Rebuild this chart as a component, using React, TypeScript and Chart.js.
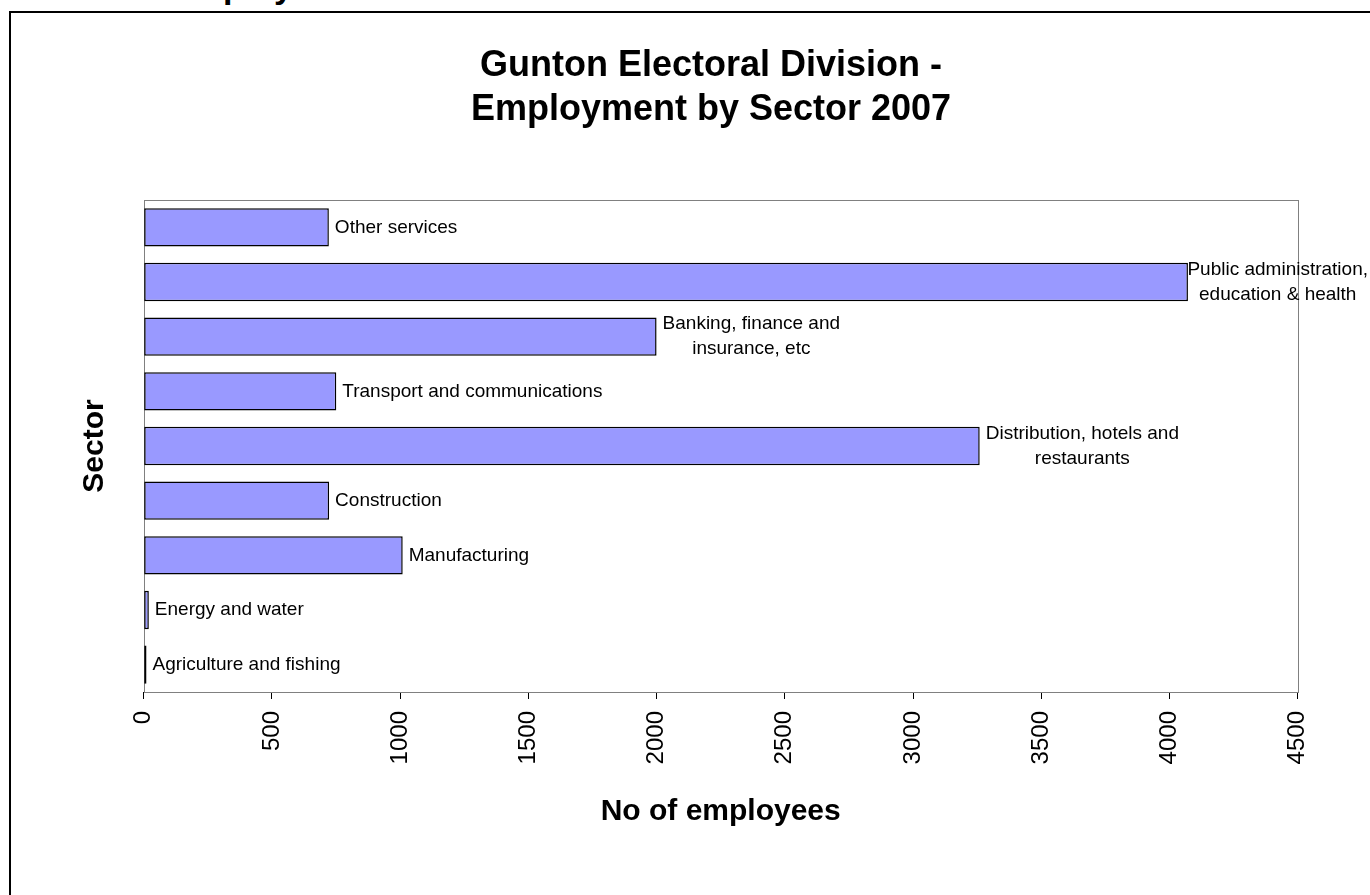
import React, { useEffect, useRef } from "react";
import { Chart, registerables } from "chart.js";

Chart.register(...registerables);

// ---- data ----
const sectorLabels: string[][] = [
  ["Other services"],
  ["Public administration,", "education & health"],
  ["Banking, finance and", "insurance, etc"],
  ["Transport and communications"],
  ["Distribution, hotels and", "restaurants"],
  ["Construction"],
  ["Manufacturing"],
  ["Energy and water"],
  ["Agriculture and fishing"],
];
const employees: number[] = [722, 4072, 2000, 751, 3260, 723, 1010, 20, 11];
const xTickValues: number[] = [0, 500, 1000, 1500, 2000, 2500, 3000, 3500, 4000, 4500];
const titleLines: string[] = ["Gunton Electoral Division -", "Employment by Sector 2007"];
const xAxisTitle = "No of employees";
const yAxisTitle = "Sector";
const pageHeading = "Employment";

// ---- layout / style constants ----
const FONT = '"Liberation Sans", Arial, Helvetica, sans-serif';
const CANVAS_W = 1400;
const CANVAS_H = 882;
const PLOT_LEFT = 132.7;
const PLOT_RIGHT = 1286.7;
const LABEL_GAP = 6;
const LABEL_LINE_H = 25;
const LABEL_RIGHT_LIMIT = 1357;
const BAR_FILL = "#9999FF";

const barLabelPlugin = {
  id: "barLabels",
  afterDatasetsDraw(chart: any) {
    const ctx = chart.ctx as CanvasRenderingContext2D;
    const meta = chart.getDatasetMeta(0);
    ctx.save();
    ctx.font = `19px ${FONT}`;
    ctx.fillStyle = "#000";
    ctx.textBaseline = "middle";
    ctx.textAlign = "center";
    meta.data.forEach((el: any, i: number) => {
      const lines = sectorLabels[i];
      const w = Math.max(...lines.map((l) => ctx.measureText(l).width));
      let left = el.x + LABEL_GAP;
      if (left + w > LABEL_RIGHT_LIMIT) left = LABEL_RIGHT_LIMIT - w;
      const cx = left + w / 2;
      const y0 = el.y - ((lines.length - 1) * LABEL_LINE_H) / 2;
      lines.forEach((l, j) => ctx.fillText(l, cx, y0 + j * LABEL_LINE_H));
    });
    ctx.restore();
  },
};

const plotBorderPlugin = {
  id: "plotBorder",
  beforeDatasetsDraw(chart: any) {
    const { ctx, chartArea } = chart;
    ctx.save();
    ctx.strokeStyle = "#808080";
    ctx.lineWidth = 1;
    ctx.strokeRect(
      Math.round(chartArea.left) + 0.5,
      Math.round(chartArea.top) + 0.5,
      Math.round(chartArea.right - chartArea.left),
      Math.round(chartArea.bottom - chartArea.top)
    );
    ctx.restore();
  },
};

function EmploymentChart() {
  const ref = useRef<HTMLCanvasElement | null>(null);
  useEffect(() => {
    if (!ref.current) return;
    Chart.defaults.font.family = FONT;
    Chart.defaults.color = "#000";
    const chart = new Chart(ref.current, {
      type: "bar",
      data: {
        labels: sectorLabels,
        datasets: [
          {
            data: employees,
            backgroundColor: BAR_FILL,
            borderColor: "#000",
            borderWidth: 1.5,
            borderSkipped: false,
            categoryPercentage: 1,
            barPercentage: 0.7,
          },
        ],
      },
      options: {
        indexAxis: "y",
        animation: false,
        responsive: false,
        devicePixelRatio: 1,
        layout: { padding: { top: 0, left: 0, right: 0, bottom: 53 } },
        plugins: {
          legend: { display: false },
          tooltip: { enabled: false },
          title: {
            display: true,
            text: titleLines,
            color: "#000",
            font: { size: 36, weight: "bold", family: FONT, lineHeight: 44 / 36 },
            padding: { top: 31, bottom: 68 },
          },
        },
        scales: {
          x: {
            type: "linear",
            position: "bottom",
            min: 0,
            max: 4500,
            afterBuildTicks: (scale: any) => {
              scale.ticks = xTickValues.map((v) => ({ value: v }));
            },
            afterFit: (scale: any) => {
              scale.height = 150;
            },
            ticks: {
              autoSkip: false,
              minRotation: 90,
              maxRotation: 90,
              padding: 12,
              color: "#000",
              font: { size: 24, family: FONT },
              callback: (v: any) => String(v),
            },
            grid: {
              display: true,
              drawOnChartArea: false,
              drawTicks: true,
              tickLength: 7,
              color: "#000",
              lineWidth: 1,
            },
            border: { display: true, color: "#000", width: 1 },
            title: {
              display: true,
              text: xAxisTitle,
              color: "#000",
              font: { size: 30, weight: "bold", family: FONT, lineHeight: 1.2 },
              padding: { top: 0, bottom: 12 },
            },
          },
          y: {
            type: "category",
            position: "left",
            afterFit: (scale: any) => {
              scale.width = PLOT_LEFT;
            },
            ticks: { display: false },
            grid: { display: false },
            border: { display: false },
            title: {
              display: true,
              text: yAxisTitle,
              color: "#000",
              font: { size: 30, weight: "bold", family: FONT, lineHeight: 1.2 },
              padding: { top: 66, bottom: 0 },
            },
          },
          y2: {
            type: "linear",
            position: "right",
            afterFit: (scale: any) => {
              scale.width = CANVAS_W - PLOT_RIGHT;
            },
            ticks: { display: false },
            grid: { display: false },
            border: { display: false },
          },
        },
      },
      plugins: [plotBorderPlugin, barLabelPlugin],
    } as any);
    return () => chart.destroy();
  }, []);
  return <canvas ref={ref} width={CANVAS_W} height={CANVAS_H} style={{ display: "block" }} />;
}

export default function App() {
  return (
    <div
      style={{
        position: "fixed",
        left: 0,
        top: 0,
        width: 1370,
        height: 895,
        overflow: "hidden",
        background: "#fff",
      }}
    >
      <div
        style={{
          position: "absolute",
          left: 170,
          top: -31,
          font: `bold 34px/34px ${FONT}`,
          color: "#000",
          whiteSpace: "nowrap",
        }}
      >
        {pageHeading}
      </div>
      <div
        style={{
          position: "absolute",
          left: 9,
          top: 11,
          width: CANVAS_W,
          height: 890,
          border: "2px solid #000",
          background: "#fff",
        }}
      >
        <EmploymentChart />
      </div>
    </div>
  );
}
